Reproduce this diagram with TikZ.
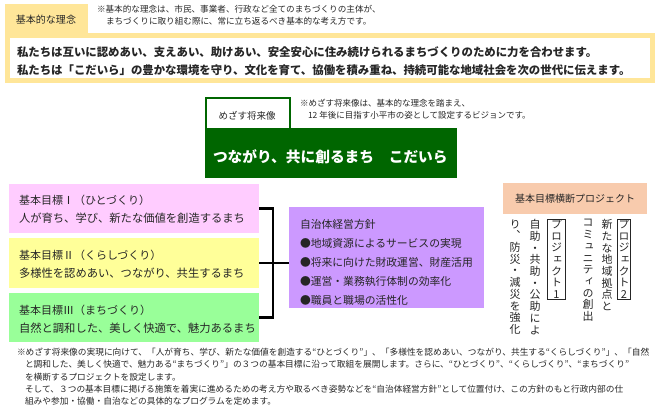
\documentclass[tikz,border=0pt]{standalone}
\usepackage{fontspec}
\setmainfont{Noto Sans CJK JP}
\newfontfamily\jpv[RawFeature=+vert]{Noto Sans CJK JP}
\definecolor{gold}{HTML}{FFE699}
\definecolor{dkgreen}{HTML}{006600}
\definecolor{pinkbox}{HTML}{FFCCFF}
\definecolor{yelbox}{HTML}{FFFF99}
\definecolor{grnbox}{HTML}{99FF99}
\definecolor{purp}{HTML}{CC99FF}
\definecolor{peach}{HTML}{F8CBAD}
\definecolor{txt}{HTML}{262626}
\begin{document}
\begin{tikzpicture}[x=1pt,y=-1pt,
  every node/.style={inner sep=0pt, outer sep=0pt, text=txt},
  box/.style={anchor=north west, inner sep=0pt, outer sep=0pt, draw=none},
  lbl/.style={anchor=west, font=\fontsize{#1}{#1}\selectfont},
  blbl/.style={anchor=west, font=\bfseries\fontsize{#1}{#1}\selectfont},
  vcol/.style={anchor=north, align=center, font=\jpv\fontsize{11}{11.7}\selectfont},
  bracket/.style={line width=2.5pt, draw=black, line join=miter}]
\useasboundingbox (0,0) rectangle (660,406);
\fill[white] (0,0) rectangle (660,406);

% basic philosophy
\node[box, fill=gold, minimum width=83pt, minimum height=34pt] (tab1) at (5,4) {};
\node[box, draw=gold, line width=5pt, fill=white, minimum width=645pt, minimum height=45pt] (frame) at (7.5,35.5) {};
\node[anchor=center, font=\fontsize{10}{10}\selectfont] (tab1t) at (46,20) {基本的な理念};
\node[lbl=8.6] (n1a) at (97,9) {※基本的な理念は、市民、事業者、行政など全てのまちづくりの主体が、};
\node[lbl=8.6] (n1b) at (106,21) {まちづくりに取り組む際に、常に立ち返るべき基本的な考え方です。};
\node[blbl=11.4] (ph1) at (17,52) {私たちは互いに認めあい、支えあい、助けあい、安全安心に住み続けられるまちづくりのために力を合わせます。};
\node[blbl=11.4] (ph2) at (17,70) {私たちは「こだいら」の豊かな環境を守り、文化を育て、協働を積み重ね、持続可能な地域社会を次の世代に伝えます。};

% vision
\node[box, fill=dkgreen, minimum width=86pt, minimum height=32pt] (tab2) at (205,97) {};
\node[box, fill=white, minimum width=82pt, minimum height=30pt] (tab2in) at (207,99) {};
\node[anchor=center, font=\fontsize{9.5}{9.5}\selectfont] (tab2t) at (247,116) {めざす将来像};
\node[box, fill=dkgreen, minimum width=252pt, minimum height=50pt] (vision) at (205,128) {};
\node[blbl=14.7, text=white] (visiont) at (213,157) {つながり、共に創るまち　こだいら};
\node[lbl=8.5] (n2a) at (300,103) {※めざす将来像は、基本的な理念を踏まえ、};
\node[lbl=8.5] (n2b) at (308,115) {12 年後に目指す小平市の姿として設定するビジョンです。};

% goals
\node[box, fill=pinkbox, minimum width=250pt, minimum height=49pt] (g1) at (9,184) {};
\node[box, fill=yelbox, minimum width=250pt, minimum height=50pt] (g2) at (9,238) {};
\node[box, fill=grnbox, minimum width=250pt, minimum height=49pt] (g3) at (9,293) {};
\node[lbl=11] (g1a) at (19,200) {基本目標Ⅰ（ひとづくり）};
\node[lbl=11.3] (g1b) at (19,218) {人が育ち、学び、新たな価値を創造するまち};
\node[lbl=11] (g2a) at (19,255) {基本目標Ⅱ（くらしづくり）};
\node[lbl=11.3] (g2b) at (19,273) {多様性を認めあい、つながり、共生するまち};
\node[lbl=11] (g3a) at (19,310) {基本目標Ⅲ（まちづくり）};
\node[lbl=11.3] (g3b) at (19,328) {自然と調和した、美しく快適で、魅力あるまち};

% policy
\node[box, fill=purp, minimum width=195pt, minimum height=101pt] (pol) at (289,207) {};
\node[lbl=10.8] (pol0) at (300,224) {自治体経営方針};
\node[lbl=10.8] (pol1) at (300,243) {●地域資源によるサービスの実現};
\node[lbl=10.8] (pol2) at (300,262) {●将来に向けた財政運営、財産活用};
\node[lbl=10.8] (pol3) at (300,281) {●運営・業務執行体制の効率化};
\node[lbl=10.8] (pol4) at (300,300) {●職員と職場の活性化};

% bracket
\coordinate (jn) at (273,264);
\draw[bracket] (g1.east) -| (jn) |- (g3.east);
\draw[bracket] (g2.east) -- (g2.east -| pol.west);

% cross projects
\node[box, fill=peach, minimum width=144pt, minimum height=31pt, font=\fontsize{10}{10}\selectfont] (cross) at (503,183) {基本目標横断プロジェクト};
\node[vcol, draw=txt, line width=0.8pt, inner xsep=1pt, inner ysep=0.5pt] (p2) at (624,219) {プ\\ロ\\ジ\\ェ\\ク\\ト\\2};
\node[vcol] (p2a) at (607,219.5) {新\\た\\な\\地\\域\\拠\\点\\と};
\node[vcol] (p2b) at (588,219.5) {コ\\ミ\\ュ\\ニ\\テ\\ィ\\の\\創\\出};
\node[vcol, draw=txt, line width=0.8pt, inner xsep=3.5pt, inner ysep=0.5pt] (p1) at (556.5,219) {プ\\ロ\\ジ\\ェ\\ク\\ト\\1};
\node[vcol] (p1a) at (535,219.5) {自\\助\\・\\共\\助\\・\\公\\助\\に\\よ};
\node[vcol] (p1b) at (515,219.5) {り\\、\\防\\災\\・\\減\\災\\を\\強\\化};

% bottom notes
\node[lbl=8.7] (b1) at (17,352) {※めざす将来像の実現に向けて、「人が育ち、学び、新たな価値を創造する“ひとづくり”」、「多様性を認めあい、つながり、共生する“くらしづくり”」、「自然};
\node[lbl=8.7] (b2) at (25,364.5) {と調和した、美しく快適で、魅力ある“まちづくり”」の３つの基本目標に沿って取組を展開します。さらに、“ひとづくり”、“くらしづくり”、“まちづくり”};
\node[lbl=8.7] (b3) at (25,377) {を横断するプロジェクトを設定します。};
\node[lbl=8.7] (b4) at (25,389.5) {そして、３つの基本目標に掲げる施策を着実に進めるための考え方や取るべき姿勢などを“自治体経営方針”として位置付け、この方針のもと行政内部の仕};
\node[lbl=8.7] (b5) at (25,401.5) {組みや参加・協働・自治などの具体的なプログラムを定めます。};
\end{tikzpicture}
\end{document}
